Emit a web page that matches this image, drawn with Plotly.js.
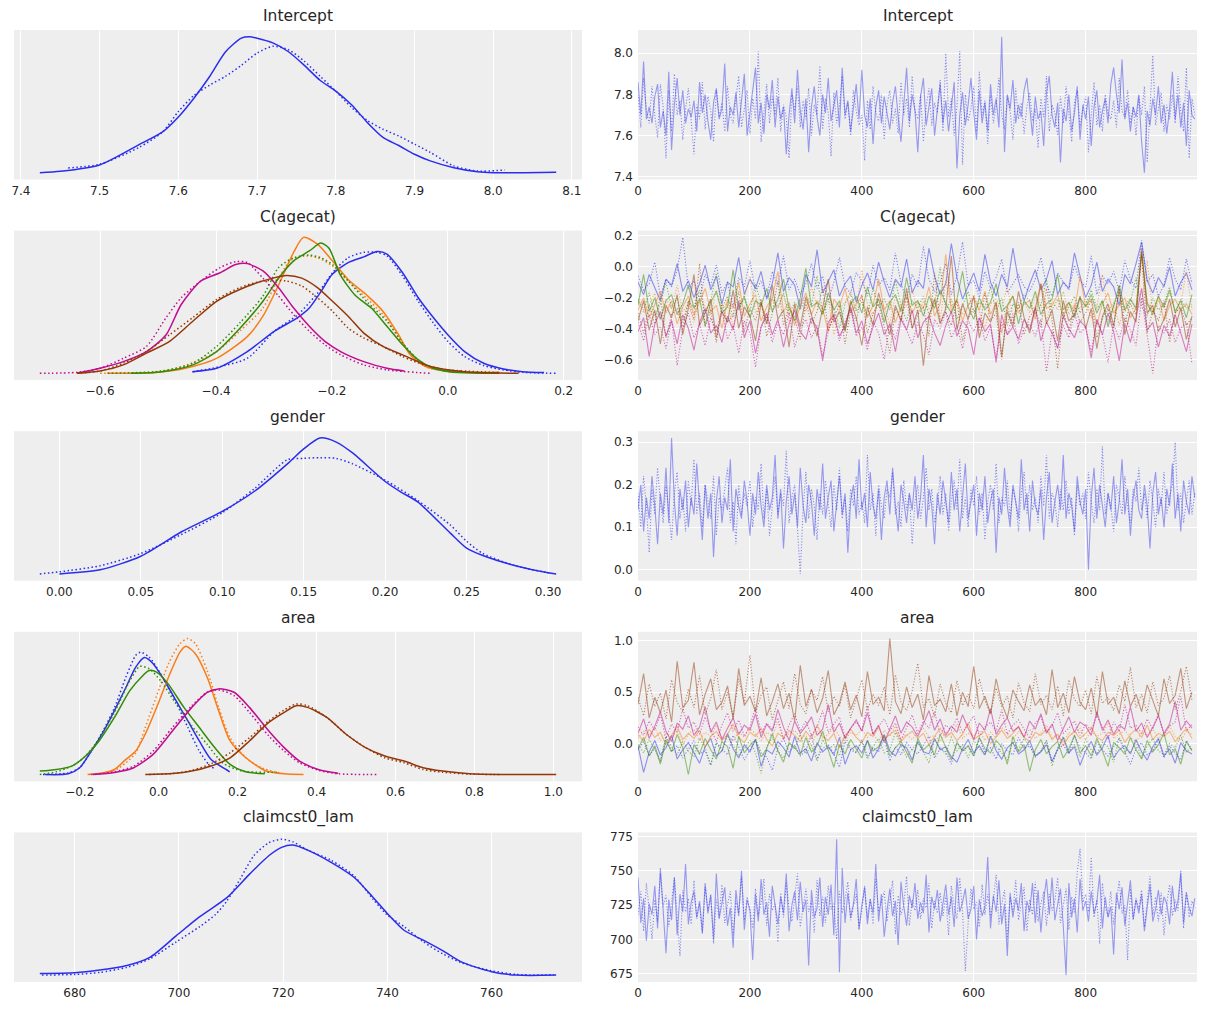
<!DOCTYPE html>
<html><head><meta charset="utf-8">
<script src="https://cdn.plot.ly/plotly-3.0.1.min.js"></script>
<style>html,body{margin:0;padding:0;background:#fff}#chart{width:1211px;height:1011px}</style>
</head><body><div id="chart"></div>
<script>
// ---------------- DATA ----------------
const panelTitles = ["Intercept", "C(agecat)", "gender", "area", "claimcst0_lam"];
const chainColors = ['#2a2eec', '#fa7c17', '#328c06', '#c10c90', '#933708'];

// KDE curves (relative density), chain A solid, chain B dotted
const interceptKdeAx = [7.424,7.45,7.50,7.55,7.58,7.60,7.62,7.64,7.66,7.68,7.69,7.70,7.72,7.74,7.76,7.78,7.80,7.82,7.84,7.86,7.88,7.90,7.92,7.95,7.98,8.00,8.04,8.08];
const interceptKdeAy = [0,0.01,0.057,0.206,0.30,0.41,0.55,0.71,0.89,0.99,1.0,0.99,0.955,0.89,0.79,0.68,0.60,0.50,0.37,0.26,0.20,0.136,0.087,0.037,0.007,0,0,0.003];
const interceptKdeBx = [7.46,7.50,7.55,7.58,7.60,7.62,7.64,7.66,7.68,7.70,7.72,7.74,7.76,7.78,7.80,7.82,7.84,7.86,7.88,7.90,7.92,7.95,7.98,8.015];
const interceptKdeBy = [0.035,0.062,0.186,0.30,0.45,0.57,0.645,0.71,0.79,0.88,0.93,0.905,0.82,0.71,0.60,0.48,0.385,0.32,0.27,0.21,0.15,0.05,0.012,0.02];

const agecatKde = [
  { ax: [-0.441,-0.399,-0.346,-0.299,-0.259,-0.239,-0.219,-0.199,-0.172,-0.145,-0.122,-0.105,-0.078,-0.051,-0.025,0.0,0.029,0.062,0.096,0.129,0.166],
    ay: [0.012,0.037,0.16,0.31,0.41,0.48,0.60,0.73,0.815,0.857,0.896,0.877,0.74,0.556,0.41,0.284,0.16,0.074,0.032,0.012,0.005],
    bx: [-0.440,-0.399,-0.346,-0.299,-0.259,-0.239,-0.219,-0.199,-0.172,-0.145,-0.122,-0.105,-0.078,-0.051,-0.025,0.0,0.029,0.062,0.096,0.129,0.187],
    by: [0.012,0.044,0.11,0.31,0.43,0.52,0.62,0.74,0.85,0.89,0.89,0.864,0.716,0.53,0.37,0.235,0.123,0.057,0.025,0.007,0.0] },
  { ax: [-0.587,-0.506,-0.453,-0.399,-0.346,-0.319,-0.292,-0.266,-0.249,-0.225,-0.199,-0.172,-0.138,-0.112,-0.085,-0.065,-0.038,-0.005,0.029,0.089],
    ay: [0,0.005,0.037,0.11,0.27,0.42,0.65,0.89,1.0,0.95,0.827,0.69,0.568,0.457,0.284,0.136,0.049,0.017,0.007,0.007],
    bx: [-0.6,-0.506,-0.453,-0.399,-0.359,-0.319,-0.292,-0.272,-0.249,-0.225,-0.199,-0.172,-0.138,-0.112,-0.085,-0.065,-0.038,-0.005,0.049],
    by: [0,0.007,0.057,0.16,0.31,0.48,0.70,0.827,0.864,0.85,0.79,0.68,0.543,0.432,0.27,0.148,0.049,0.017,0.005] },
  { ax: [-0.547,-0.493,-0.440,-0.399,-0.359,-0.319,-0.292,-0.266,-0.239,-0.219,-0.205,-0.185,-0.159,-0.132,-0.105,-0.078,-0.051,-0.025,0.002,0.042,0.089],
    ay: [0,0.012,0.062,0.16,0.33,0.53,0.70,0.827,0.90,0.958,0.92,0.72,0.57,0.48,0.346,0.21,0.099,0.037,0.012,0.002,0],
    bx: [-0.587,-0.493,-0.440,-0.399,-0.359,-0.319,-0.292,-0.266,-0.239,-0.219,-0.199,-0.172,-0.138,-0.105,-0.078,-0.051,-0.025,0.022],
    by: [0,0.017,0.074,0.198,0.37,0.568,0.778,0.85,0.87,0.85,0.80,0.68,0.52,0.383,0.222,0.099,0.037,0.017] },
  { ax: [-0.640,-0.6,-0.560,-0.520,-0.486,-0.460,-0.426,-0.393,-0.366,-0.346,-0.319,-0.292,-0.266,-0.239,-0.212,-0.185,-0.145,-0.105,-0.075],
    ay: [0,0.037,0.086,0.16,0.284,0.506,0.68,0.74,0.80,0.807,0.753,0.63,0.48,0.346,0.235,0.16,0.086,0.037,0.017],
    bx: [-0.704,-0.640,-0.6,-0.560,-0.520,-0.486,-0.460,-0.426,-0.393,-0.366,-0.346,-0.319,-0.292,-0.266,-0.239,-0.212,-0.185,-0.145,-0.105,-0.031],
    by: [0,0.007,0.037,0.11,0.198,0.41,0.556,0.68,0.778,0.822,0.815,0.70,0.568,0.432,0.31,0.21,0.136,0.062,0.025,0] },
  { ax: [-0.640,-0.6,-0.560,-0.520,-0.480,-0.440,-0.399,-0.359,-0.319,-0.279,-0.252,-0.225,-0.199,-0.172,-0.145,-0.112,-0.078,-0.038,0.002,0.056,0.122],
    ay: [0,0.017,0.062,0.148,0.235,0.383,0.53,0.617,0.68,0.72,0.70,0.63,0.53,0.42,0.296,0.198,0.136,0.062,0.025,0.005,0],
    bx: [-0.640,-0.6,-0.560,-0.520,-0.480,-0.440,-0.399,-0.359,-0.319,-0.279,-0.252,-0.225,-0.199,-0.172,-0.145,-0.112,-0.078,-0.038,0.002,0.089],
    by: [0,0.017,0.074,0.16,0.284,0.41,0.543,0.63,0.68,0.68,0.642,0.556,0.457,0.333,0.26,0.198,0.123,0.057,0.025,0.005] }
];

const genderKdeAx = [0.0,0.025,0.05,0.075,0.10,0.12,0.14,0.15,0.16,0.17,0.18,0.20,0.21,0.22,0.24,0.25,0.26,0.28,0.30,0.305];
const genderKdeAy = [0.0,0.03,0.13,0.31,0.46,0.61,0.81,0.92,1.0,0.97,0.89,0.68,0.60,0.53,0.30,0.19,0.135,0.06,0.008,0.0];
const genderKdeBx = [-0.012,0.0,0.025,0.05,0.075,0.10,0.12,0.14,0.15,0.16,0.17,0.18,0.20,0.22,0.24,0.25,0.26,0.28,0.30,0.302];
const genderKdeBy = [0.0,0.015,0.06,0.15,0.29,0.45,0.63,0.84,0.85,0.855,0.85,0.81,0.69,0.54,0.36,0.24,0.15,0.06,0.008,0.005];

const areaKde = [
  { ax: [-0.288,-0.229,-0.2,-0.171,-0.141,-0.112,-0.083,-0.058,-0.036,-0.014,0.015,0.044,0.074,0.103,0.133,0.172,0.18],
    ay: [0,0.005,0.05,0.17,0.31,0.47,0.64,0.79,0.86,0.815,0.69,0.543,0.395,0.247,0.11,0.035,0.02],
    bx: [-0.293,-0.229,-0.2,-0.171,-0.141,-0.112,-0.083,-0.058,-0.046,-0.024,0.005,0.044,0.074,0.103,0.133,0.142],
    by: [0,0.012,0.05,0.17,0.32,0.49,0.716,0.877,0.90,0.864,0.74,0.53,0.346,0.173,0.054,0.05] },
  { ax: [-0.18,-0.141,-0.112,-0.083,-0.058,-0.034,-0.005,0.025,0.054,0.069,0.093,0.123,0.152,0.181,0.221,0.269,0.318,0.367],
    ay: [0,0.012,0.037,0.111,0.173,0.296,0.494,0.716,0.90,0.943,0.889,0.716,0.469,0.247,0.123,0.03,0.005,0],
    bx: [-0.176,-0.112,-0.083,-0.058,-0.034,-0.005,0.025,0.054,0.074,0.093,0.123,0.152,0.181,0.221,0.260,0.309],
    by: [0,0.03,0.086,0.16,0.346,0.58,0.815,0.963,1.0,0.963,0.765,0.494,0.27,0.123,0.05,0.01] },
  { ax: [-0.301,-0.259,-0.22,-0.19,-0.151,-0.112,-0.073,-0.044,-0.024,-0.005,0.024,0.064,0.103,0.142,0.181,0.221,0.269],
    ay: [0.025,0.037,0.062,0.123,0.247,0.42,0.617,0.716,0.765,0.753,0.667,0.494,0.346,0.198,0.074,0.02,0.005],
    bx: [-0.301,-0.259,-0.22,-0.19,-0.151,-0.112,-0.073,-0.048,-0.024,0.005,0.044,0.084,0.123,0.162,0.211,0.299],
    by: [0,0.02,0.062,0.123,0.26,0.457,0.69,0.795,0.778,0.69,0.52,0.358,0.222,0.086,0.025,0.017] },
  { ax: [-0.166,-0.112,-0.063,-0.014,0.035,0.084,0.123,0.152,0.191,0.230,0.279,0.318,0.357,0.406,0.455],
    ay: [0,0.015,0.05,0.148,0.32,0.494,0.605,0.63,0.605,0.494,0.32,0.198,0.099,0.035,0.01],
    bx: [-0.171,-0.112,-0.063,-0.014,0.035,0.084,0.123,0.152,0.191,0.230,0.279,0.318,0.357,0.406,0.455,0.558],
    by: [0,0.02,0.062,0.173,0.346,0.506,0.605,0.622,0.58,0.457,0.284,0.173,0.086,0.03,0.005,0] },
  { ax: [-0.034,0.035,0.084,0.133,0.181,0.230,0.279,0.318,0.348,0.377,0.426,0.475,0.524,0.573,0.622,0.670,0.719,0.788,0.866,1.007],
    ay: [0,0.007,0.025,0.062,0.123,0.247,0.383,0.457,0.506,0.494,0.42,0.296,0.198,0.136,0.099,0.05,0.025,0.005,0,0],
    bx: [-0.024,0.035,0.084,0.133,0.181,0.230,0.279,0.318,0.348,0.377,0.426,0.475,0.524,0.573,0.622,0.670,0.719,0.788,0.866],
    by: [0,0.007,0.03,0.079,0.16,0.27,0.395,0.474,0.519,0.506,0.42,0.296,0.198,0.123,0.086,0.037,0.017,0.003,0] }
];

const claimKdeAx = [673.3,680,684.8,690,694.4,699.5,704,709.2,713.6,717.3,719.7,721.9,724.7,729.2,733.6,737.3,739.9,743.2,746.9,750.6,754.3,760,764.7,772.4];
const claimKdeAy = [0.012,0.017,0.037,0.07,0.13,0.29,0.43,0.57,0.745,0.88,0.94,0.957,0.92,0.83,0.72,0.57,0.457,0.33,0.257,0.18,0.095,0.025,0,0];
const claimKdeBx = [673.7,680,684.8,690,694.4,699.5,704,707,709.2,711.8,714.4,717.3,719.7,721.9,724.7,729.2,733.6,737.3,739.9,743.2,746.9,750.6,754.3,760,764.7,772];
const claimKdeBy = [0,0.005,0.02,0.057,0.12,0.245,0.357,0.445,0.545,0.71,0.88,0.975,1.0,0.98,0.92,0.845,0.73,0.557,0.445,0.357,0.245,0.157,0.09,0.032,0.005,0];

// Trace samples (thinned draws)
const singleStep = 5;
const multiStep = 10;
const interceptA = [7.86,7.70,7.96,7.68,7.74,7.66,7.79,7.85,7.64,7.72,7.60,7.91,7.53,7.75,7.88,7.70,7.82,7.66,7.73,7.69,7.77,7.62,7.86,7.71,7.80,7.67,7.58,7.76,7.83,7.68,7.73,7.95,7.62,7.74,7.70,7.81,7.64,7.78,7.90,7.60,7.72,7.84,7.93,7.66,7.76,7.61,7.80,7.73,7.87,7.64,7.79,7.68,7.74,7.51,7.70,7.83,7.66,7.92,7.72,7.63,7.78,7.52,7.74,7.84,7.69,7.60,7.80,7.71,7.88,7.67,7.75,7.82,7.64,7.93,7.70,7.77,7.62,7.73,7.85,7.68,7.92,7.70,7.64,7.78,7.56,7.74,7.82,7.66,7.79,7.71,7.63,7.76,7.84,7.69,7.57,7.75,7.93,7.67,7.80,7.72,7.52,7.79,7.88,7.65,7.74,7.83,7.60,7.71,7.85,7.66,7.77,7.62,7.73,7.86,7.44,7.70,7.81,7.65,7.75,7.88,7.71,7.58,7.82,7.66,7.76,7.62,7.85,7.70,7.78,7.64,8.08,7.52,7.80,7.73,7.87,7.66,7.75,7.69,7.82,7.88,7.74,7.60,7.79,7.68,7.72,7.55,7.81,7.89,7.70,7.64,7.76,7.47,7.73,7.67,7.80,7.62,7.71,7.84,7.58,7.75,7.68,7.79,7.55,7.74,7.82,7.64,7.72,7.78,7.66,7.85,7.93,7.80,7.71,7.97,7.68,7.76,7.62,7.74,7.69,7.80,7.57,7.42,7.72,7.65,7.78,7.70,7.84,7.66,7.75,7.61,7.73,7.91,7.68,7.80,7.64,7.76,7.55,7.82,7.70,7.68];
const interceptB = [7.80,7.64,7.88,7.72,7.66,7.84,7.70,7.59,7.85,7.74,7.49,7.82,7.62,7.90,7.70,7.77,7.58,7.73,7.83,7.67,7.51,7.75,7.68,7.86,7.63,7.79,7.72,7.57,7.82,7.69,7.76,7.62,7.84,7.70,7.66,7.78,7.89,7.64,7.74,7.82,7.61,7.78,7.68,8.01,7.57,7.73,7.85,7.66,7.79,7.70,7.88,7.62,7.75,7.69,7.49,7.80,7.72,7.84,7.64,7.77,7.68,7.83,7.60,7.75,7.70,7.94,7.63,7.78,7.71,7.50,7.81,7.66,7.74,7.89,7.68,7.76,7.60,7.82,7.72,7.65,7.70,7.48,7.77,7.63,7.84,7.71,7.67,7.80,7.58,7.75,7.82,7.66,7.73,7.61,7.86,7.70,7.78,7.64,7.89,7.72,7.68,7.80,7.57,7.74,7.83,7.65,7.76,7.71,7.87,7.62,8.00,7.69,7.78,7.60,7.74,8.01,7.46,7.80,7.67,7.73,7.84,7.62,7.91,7.70,7.77,7.56,7.80,7.66,7.74,7.88,7.70,7.63,7.79,7.72,7.58,7.83,7.68,7.76,7.61,7.74,7.81,7.67,7.73,7.54,7.78,7.69,7.89,7.62,7.75,7.71,7.60,7.79,7.66,7.84,7.70,7.57,7.76,7.82,7.64,7.73,7.79,7.52,7.70,7.86,7.65,7.75,7.62,7.80,7.71,7.68,7.77,7.64,7.88,7.72,7.69,7.82,7.66,7.74,7.60,7.79,7.70,7.84,7.47,7.76,7.99,7.65,7.73,7.81,7.62,7.75,7.68,7.80,7.66,7.89,7.72,7.62,7.93,7.49,7.78,7.70];

const agecatA = [
  [-0.10,-0.18,-0.05,-0.14,-0.22,-0.08,-0.12,0.02,-0.16,-0.09,-0.20,-0.11,0.01,-0.15,-0.06,-0.24,-0.10,-0.13,0.06,-0.18,-0.08,-0.14,-0.03,-0.21,-0.11,0.09,-0.16,-0.07,-0.12,-0.27,-0.05,-0.13,0.11,-0.17,-0.09,-0.02,-0.19,-0.11,-0.06,-0.23,-0.12,-0.04,-0.15,0.03,-0.10,-0.20,-0.08,-0.13,0.05,-0.17,-0.09,-0.14,0.12,-0.06,-0.18,-0.11,0.15,-0.07,-0.21,-0.12,-0.04,-0.16,0.08,-0.10,-0.19,-0.05,-0.13,0.12,-0.09,-0.22,-0.11,-0.02,-0.15,-0.08,0.04,-0.18,-0.10,-0.14,0.09,-0.06,-0.20,-0.12,0.03,-0.16,-0.08,-0.13,-0.25,-0.05,-0.11,0.02,0.16,-0.09,-0.17,-0.07,-0.13,0.00,-0.19,-0.10,-0.04,-0.15],
  [-0.28,-0.20,-0.33,-0.24,-0.16,-0.30,-0.22,-0.37,-0.26,-0.19,-0.31,-0.23,-0.14,-0.29,-0.25,-0.40,-0.21,-0.27,-0.10,-0.32,-0.24,-0.18,-0.35,-0.26,-0.20,-0.03,-0.29,-0.23,-0.38,-0.25,-0.17,-0.31,-0.22,-0.27,-0.42,-0.21,-0.26,-0.14,-0.30,-0.24,-0.19,-0.33,-0.25,-0.08,-0.28,-0.22,-0.36,-0.26,-0.18,-0.30,-0.23,-0.27,-0.13,-0.32,-0.24,0.08,-0.29,-0.21,-0.35,-0.25,-0.20,-0.28,-0.16,-0.31,-0.23,-0.43,-0.26,-0.19,-0.30,-0.24,-0.22,-0.34,-0.11,-0.27,-0.25,-0.18,-0.32,-0.23,-0.29,-0.06,-0.26,-0.21,-0.38,-0.24,-0.17,-0.30,-0.25,-0.20,-0.33,-0.27,0.10,-0.23,-0.29,-0.19,-0.35,-0.25,-0.21,-0.28,-0.24,-0.31],
  [-0.25,-0.05,-0.29,-0.20,-0.34,-0.22,-0.18,-0.31,-0.24,-0.12,-0.27,-0.21,-0.38,-0.23,-0.16,-0.30,-0.26,-0.02,-0.28,-0.19,-0.33,-0.22,-0.25,-0.14,-0.29,-0.21,-0.08,-0.27,-0.35,-0.20,-0.01,-0.26,-0.23,-0.31,-0.17,-0.28,-0.22,-0.41,-0.24,-0.19,-0.30,-0.13,-0.26,-0.21,-0.36,-0.23,-0.18,-0.29,-0.07,-0.25,-0.22,-0.32,-0.19,-0.27,-0.15,-0.24,-0.30,-0.21,-0.03,-0.26,-0.34,-0.20,-0.28,-0.23,-0.11,-0.29,-0.25,-0.19,-0.37,-0.22,-0.27,-0.16,-0.31,-0.24,-0.21,-0.05,-0.28,-0.23,-0.33,-0.20,-0.26,-0.18,-0.30,-0.22,-0.39,-0.25,-0.12,-0.28,-0.21,-0.27,0.09,-0.24,-0.31,-0.19,-0.26,-0.15,-0.29,-0.22,-0.33,-0.18],
  [-0.42,-0.33,-0.58,-0.37,-0.29,-0.45,-0.35,-0.50,-0.31,-0.40,-0.54,-0.36,-0.27,-0.43,-0.38,-0.49,-0.32,-0.41,-0.22,-0.46,-0.35,-0.56,-0.39,-0.30,-0.44,-0.34,-0.52,-0.37,-0.28,-0.42,-0.47,-0.33,-0.40,-0.61,-0.36,-0.31,-0.45,-0.38,-0.26,-0.43,-0.35,-0.50,-0.39,-0.30,-0.44,-0.37,-0.55,-0.34,-0.41,-0.28,-0.46,-0.36,-0.32,-0.43,-0.51,-0.38,-0.29,-0.45,-0.35,-0.40,-0.57,-0.33,-0.42,-0.37,-0.62,-0.31,-0.44,-0.39,-0.47,-0.34,-0.41,-0.26,-0.48,-0.36,-0.43,-0.53,-0.32,-0.40,-0.46,-0.35,-0.39,-0.59,-0.34,-0.44,-0.30,-0.42,-0.61,-0.37,-0.49,-0.33,-0.14,-0.41,-0.36,-0.52,-0.38,-0.45,-0.31,-0.43,-0.55,-0.37],
  [-0.35,-0.22,-0.41,-0.28,-0.50,-0.25,-0.33,-0.18,-0.44,-0.27,-0.05,-0.38,-0.30,-0.21,-0.46,-0.29,-0.36,-0.15,-0.40,-0.26,-0.32,-0.48,-0.23,-0.37,-0.12,-0.34,-0.28,-0.52,-0.24,-0.39,-0.20,-0.31,-0.45,-0.27,-0.08,-0.36,-0.29,-0.42,-0.22,-0.33,-0.51,-0.26,-0.38,-0.17,-0.30,-0.44,-0.25,-0.35,-0.14,-0.40,-0.28,-0.64,-0.32,-0.21,-0.37,-0.27,0.07,-0.41,-0.24,-0.34,-0.19,-0.46,-0.30,-0.36,-0.23,-0.58,-0.29,-0.39,-0.16,-0.33,-0.43,-0.26,-0.11,-0.37,-0.28,-0.48,-0.22,-0.35,-0.31,-0.19,-0.40,-0.27,-0.53,-0.32,-0.24,-0.38,-0.15,-0.44,-0.29,-0.36,0.12,-0.30,-0.25,-0.42,-0.34,-0.21,-0.39,-0.27,-0.47,-0.32]
];
const agecatB = [
  [-0.06,-0.15,-0.11,0.03,-0.19,-0.08,-0.13,-0.02,0.19,-0.14,-0.09,-0.21,-0.05,-0.12,0.01,-0.17,-0.10,-0.26,-0.07,-0.13,0.04,-0.16,-0.09,-0.20,-0.03,-0.12,0.07,-0.15,-0.08,-0.18,-0.11,0.02,-0.14,-0.06,-0.22,-0.10,0.06,-0.13,-0.17,-0.04,-0.09,-0.19,0.01,-0.12,-0.07,-0.15,0.09,-0.11,-0.21,-0.05,-0.13,0.13,-0.08,-0.16,-0.10,0.02,-0.18,-0.06,0.16,-0.12,-0.09,-0.20,-0.03,-0.14,-0.07,0.05,-0.17,-0.11,-0.05,-0.13,-0.16,-0.08,0.06,-0.12,-0.19,-0.04,-0.10,-0.15,0.01,-0.09,-0.13,0.07,-0.18,-0.06,-0.11,-0.03,-0.16,0.04,-0.08,-0.14,0.17,-0.10,-0.05,-0.19,-0.12,0.06,-0.08,-0.15,0.05,-0.11],
  [-0.22,-0.30,-0.25,-0.17,-0.34,-0.21,-0.27,-0.12,-0.29,-0.24,-0.36,-0.20,-0.26,-0.31,-0.15,-0.28,-0.23,-0.39,-0.25,-0.19,-0.06,-0.30,-0.24,-0.33,-0.21,-0.27,-0.18,-0.35,-0.26,-0.22,-0.29,-0.13,-0.25,-0.31,-0.20,-0.44,-0.27,-0.23,-0.16,-0.28,-0.02,-0.24,-0.32,-0.21,-0.26,-0.37,-0.19,-0.29,-0.25,-0.14,-0.30,-0.23,-0.27,-0.20,-0.34,-0.09,-0.26,-0.22,-0.31,-0.25,-0.18,-0.29,-0.40,-0.24,-0.21,-0.27,-0.13,-0.32,-0.26,-0.23,-0.30,-0.19,-0.25,-0.35,-0.22,-0.28,-0.16,-0.31,-0.24,-0.27,-0.21,-0.33,-0.26,-0.05,-0.29,-0.23,-0.38,-0.25,-0.20,-0.28,-0.24,0.04,-0.31,-0.22,-0.27,-0.17,-0.30,-0.25,-0.02,-0.28],
  [-0.21,-0.28,-0.17,-0.32,-0.24,-0.10,-0.27,-0.20,-0.36,-0.23,-0.26,-0.15,-0.30,-0.22,-0.04,-0.27,-0.19,-0.33,-0.25,-0.21,-0.29,-0.11,-0.24,-0.37,-0.20,-0.26,-0.17,-0.31,-0.23,-0.28,-0.19,-0.25,-0.06,-0.30,-0.22,-0.27,-0.40,-0.24,-0.18,-0.29,-0.23,-0.32,-0.14,-0.26,-0.21,-0.28,-0.09,-0.25,-0.35,-0.22,-0.27,-0.19,-0.31,-0.24,-0.00,-0.28,-0.21,-0.34,-0.25,-0.16,-0.30,-0.23,-0.26,-0.13,-0.29,-0.20,-0.38,-0.24,-0.27,-0.18,-0.22,-0.31,-0.25,-0.08,-0.28,-0.21,-0.33,-0.26,-0.19,-0.30,-0.24,-0.15,-0.27,-0.22,-0.36,-0.25,-0.17,-0.29,-0.23,-0.07,-0.26,-0.32,-0.20,-0.28,-0.24,-0.13,-0.30,-0.21,-0.27,-0.25],
  [-0.36,-0.48,-0.31,-0.44,-0.39,-0.53,-0.34,-0.64,-0.40,-0.30,-0.46,-0.37,-0.51,-0.33,-0.42,-0.28,-0.47,-0.38,-0.56,-0.35,-0.43,-0.65,-0.39,-0.32,-0.49,-0.36,-0.44,-0.30,-0.52,-0.40,-0.34,-0.46,-0.38,-0.58,-0.42,-0.31,-0.48,-0.36,-0.27,-0.45,-0.39,-0.54,-0.35,-0.43,-0.60,-0.37,-0.47,-0.32,-0.41,-0.50,-0.36,-0.44,-0.57,-0.34,-0.40,-0.29,-0.46,-0.38,-0.53,-0.35,-0.42,-0.33,-0.48,-0.39,-0.59,-0.36,-0.44,-0.31,-0.50,-0.40,-0.37,-0.45,-0.34,-0.68,-0.41,-0.52,-0.38,-0.46,-0.30,-0.43,-0.39,-0.55,-0.35,-0.44,-0.62,-0.37,-0.47,-0.33,-0.41,-0.51,-0.20,-0.45,-0.69,-0.38,-0.43,-0.34,-0.49,-0.40,-0.36,-0.63],
  [-0.30,-0.43,-0.25,-0.37,-0.19,-0.46,-0.31,-0.27,-0.40,-0.22,-0.34,0.02,-0.39,-0.28,-0.49,-0.24,-0.36,-0.31,-0.16,-0.42,-0.27,-0.35,-0.21,-0.45,-0.30,-0.09,-0.38,-0.26,-0.33,-0.47,-0.23,-0.37,-0.29,-0.13,-0.41,-0.32,-0.25,-0.50,-0.28,-0.35,-0.18,-0.43,-0.30,-0.24,-0.39,-0.56,-0.27,-0.34,-0.20,-0.40,-0.31,-0.26,-0.45,-0.04,-0.36,-0.29,-0.38,-0.22,-0.48,-0.33,-0.27,-0.41,-0.17,-0.35,-0.30,-0.60,-0.26,-0.37,-0.23,-0.44,-0.32,-0.28,-0.39,-0.14,-0.34,-0.66,-0.29,-0.42,-0.25,-0.36,-0.30,-0.21,-0.46,-0.33,-0.27,-0.40,-0.12,-0.37,-0.24,-0.31,0.07,-0.43,-0.28,-0.35,-0.22,-0.49,-0.30,-0.26,-0.38,-0.33]
];

const genderA = [0.14,0.20,0.09,0.17,0.12,0.22,0.15,0.06,0.18,0.13,0.24,0.11,0.31,0.16,0.08,0.19,0.14,0.21,0.10,0.17,0.13,0.25,0.15,0.07,0.20,0.12,0.18,0.03,0.16,0.22,0.11,0.17,0.14,0.26,0.09,0.19,0.15,0.12,0.21,0.16,0.08,0.18,0.13,0.23,0.15,0.10,0.20,0.14,0.17,0.27,0.12,0.19,0.05,0.16,0.22,0.13,0.18,0.10,0.24,0.15,0.11,0.20,0.16,0.08,0.19,0.14,0.25,0.12,0.17,0.21,0.09,0.15,0.22,0.13,0.18,0.04,0.16,0.20,0.12,0.26,0.14,0.18,0.10,0.23,0.15,0.12,0.19,0.07,0.17,0.21,0.13,0.24,0.15,0.09,0.20,0.16,0.11,0.18,0.14,0.22,0.12,0.17,0.27,0.10,0.19,0.15,0.06,0.18,0.13,0.21,0.16,0.11,0.23,0.14,0.19,0.09,0.17,0.25,0.12,0.16,0.20,0.08,0.18,0.14,0.22,0.11,0.16,0.19,0.04,0.17,0.13,0.24,0.15,0.10,0.20,0.16,0.12,0.26,0.14,0.18,0.09,0.21,0.15,0.13,0.19,0.07,0.17,0.23,0.11,0.16,0.20,0.14,0.27,0.12,0.18,0.15,0.09,0.22,0.16,0.13,0.19,0.00,0.17,0.24,0.12,0.20,0.15,0.10,0.18,0.14,0.22,0.11,0.16,0.26,0.13,0.19,0.08,0.17,0.21,0.14,0.12,0.20,0.15,0.05,0.18,0.23,0.13,0.17,0.10,0.19,0.15,0.25,0.12,0.18,0.09,0.21,0.16,0.13,0.22,0.17];
const genderB = [0.18,0.10,0.22,0.15,0.04,0.19,0.13,0.24,0.16,0.11,0.20,0.14,0.07,0.18,0.23,0.12,0.17,0.09,0.21,0.15,0.26,0.13,0.18,0.10,0.20,0.16,0.12,0.22,0.08,0.17,0.14,0.19,0.24,0.11,0.16,0.06,0.20,0.13,0.18,0.15,0.21,0.10,0.17,0.14,0.25,0.12,0.19,0.08,0.16,0.22,0.13,0.18,0.15,0.28,0.11,0.17,0.20,0.09,-0.01,0.14,0.23,0.12,0.19,0.15,0.07,0.18,0.13,0.21,0.16,0.10,0.20,0.14,0.24,0.12,0.17,0.09,0.19,0.15,0.22,0.13,0.16,0.11,0.27,0.14,0.18,0.08,0.20,0.15,0.12,0.19,0.17,0.23,0.13,0.16,0.10,0.21,0.14,0.18,0.06,0.16,0.20,0.12,0.17,0.24,0.14,0.19,0.11,0.15,0.22,0.13,0.18,0.09,0.16,0.21,0.14,0.26,0.12,0.17,0.10,0.19,0.15,0.22,0.13,0.18,0.07,0.16,0.20,0.14,0.25,0.11,0.17,0.15,0.21,0.12,0.19,0.16,0.09,0.18,0.23,0.13,0.20,0.14,0.17,0.11,0.22,0.15,0.27,0.12,0.18,0.16,0.10,0.19,0.14,0.21,0.13,0.17,0.08,0.20,0.15,0.18,0.12,0.23,0.16,0.11,0.19,0.14,0.29,0.13,0.18,0.15,0.09,0.20,0.17,0.13,0.22,0.15,0.11,0.19,0.16,0.24,0.14,0.18,0.12,0.21,0.16,0.10,0.19,0.15,0.23,0.13,0.17,0.20,0.30,0.14,0.18,0.11,0.16,0.21,0.13,0.18];

const areaA = [
  [-0.02,-0.28,-0.08,0.03,-0.11,-0.04,0.08,-0.15,-0.06,0.01,-0.09,-0.19,-0.03,0.05,-0.12,-0.07,0.10,-0.05,-0.14,-0.01,-0.08,0.04,-0.22,-0.06,-0.10,0.02,-0.04,-0.13,0.07,-0.09,-0.05,-0.17,0.01,-0.08,-0.03,-0.11,0.06,-0.20,-0.06,-0.02,-0.09,0.03,-0.14,-0.05,0.09,-0.07,-0.12,-0.01,-0.04,-0.16,0.02,-0.08,-0.10,0.05,-0.06,-0.03,-0.13,-0.18,-0.05,0.04,-0.09,-0.02,-0.11,0.07,-0.07,-0.15,-0.04,0.01,-0.10,-0.06,0.03,-0.12,-0.08,-0.01,-0.17,-0.05,0.06,-0.09,-0.03,-0.21,-0.07,0.02,-0.11,-0.04,0.08,-0.14,-0.06,-0.02,-0.10,0.04,-0.08,-0.16,-0.03,0.05,-0.12,-0.05,-0.19,0.01,-0.07,-0.10],
  [0.09,0.02,0.14,0.06,0.11,-0.01,0.08,0.17,0.04,0.10,0.05,0.13,-0.03,0.07,0.12,0.03,0.09,0.19,0.06,0.01,0.11,0.07,0.15,0.04,-0.02,0.10,0.06,0.13,0.08,0.02,0.12,0.05,0.18,0.07,0.03,0.10,-0.04,0.08,0.14,0.06,0.01,0.11,0.07,0.16,0.04,0.09,0.13,0.02,0.08,0.12,0.05,0.10,-0.01,0.07,0.15,0.06,0.11,0.03,0.09,0.20,0.04,0.08,0.12,0.00,0.07,0.13,0.05,0.10,0.17,0.06,0.02,0.11,0.08,0.14,0.04,0.09,-0.02,0.07,0.12,0.05,0.10,0.16,0.06,0.03,0.11,0.08,0.13,0.01,0.09,0.14,0.06,0.18,0.04,0.10,0.07,0.12,0.02,0.08,0.15,0.05],
  [-0.05,0.06,-0.12,-0.02,-0.20,0.03,-0.08,0.09,-0.04,-0.30,-0.01,-0.10,0.05,-0.06,-0.15,0.02,-0.03,-0.24,0.07,-0.09,-0.02,0.04,-0.13,-0.05,0.10,-0.07,-0.18,0.01,-0.04,-0.11,0.06,-0.08,-0.02,0.12,-0.06,-0.23,-0.01,-0.10,0.04,-0.05,-0.14,0.03,-0.07,-0.03,0.08,-0.12,-0.04,0.02,-0.09,-0.19,0.05,-0.06,-0.01,-0.11,0.09,-0.04,-0.16,0.01,-0.07,-0.02,-0.12,0.06,-0.05,-0.09,0.03,-0.03,-0.20,0.07,-0.08,-0.01,-0.27,-0.06,0.04,-0.10,-0.03,0.02,-0.14,-0.05,0.08,-0.09,-0.02,-0.12,0.05,-0.07,-0.22,0.01,-0.04,-0.10,0.06,-0.06,-0.15,0.03,-0.08,-0.01,0.10,-0.11,-0.05,-0.20,0.02,-0.07],
  [0.10,0.24,0.05,0.17,0.31,0.12,0.02,0.20,0.14,0.27,0.08,0.16,0.36,0.11,0.21,0.04,0.15,0.25,0.09,0.18,0.13,0.29,0.06,0.19,0.12,0.33,0.16,0.03,0.22,0.10,0.17,0.26,0.08,0.14,0.38,0.11,0.20,0.05,0.15,0.23,0.12,0.30,0.09,0.18,0.01,0.14,0.27,0.10,0.21,0.16,0.07,0.19,0.32,0.13,0.24,0.08,0.17,0.11,0.28,0.15,0.04,0.20,0.13,0.34,0.09,0.18,0.25,0.12,0.16,0.06,0.22,0.14,0.29,0.10,0.19,0.03,0.15,0.26,0.11,0.21,0.17,0.08,0.31,0.13,0.23,0.09,0.18,0.14,0.36,0.12,0.20,0.06,0.16,0.27,0.10,0.19,0.41,0.13,0.22,0.15],
  [0.38,0.68,0.25,0.45,0.30,0.52,0.21,0.80,0.35,0.42,0.79,0.28,0.48,0.63,0.33,0.40,0.56,0.24,0.73,0.37,0.46,0.31,0.64,0.27,0.41,0.58,0.34,0.49,0.22,0.76,0.36,0.53,0.30,0.44,0.71,0.28,0.39,0.60,0.33,0.47,0.26,0.70,0.38,0.45,0.32,1.02,0.41,0.29,0.55,0.35,0.48,0.23,0.66,0.37,0.43,0.31,0.58,0.27,0.50,0.36,0.75,0.34,0.46,0.29,0.63,0.39,0.25,0.52,0.41,0.32,0.57,0.37,0.44,0.28,0.72,0.35,0.49,0.30,0.65,0.40,0.33,0.54,0.26,0.70,0.38,0.45,0.29,0.61,0.36,0.48,0.31,0.57,0.42,0.27,0.63,0.39,0.47,0.73,0.34,0.50]
];
const areaB = [
  [-0.06,0.02,-0.12,-0.04,-0.18,0.06,-0.08,-0.02,-0.14,-0.05,0.03,-0.10,-0.07,-0.21,0.01,-0.05,-0.11,0.08,-0.03,-0.16,-0.06,0.04,-0.09,-0.13,-0.26,-0.04,0.05,-0.08,-0.02,-0.12,-0.07,0.09,-0.15,-0.05,-0.01,-0.10,-0.23,0.02,-0.06,-0.09,0.04,-0.13,-0.04,-0.08,0.06,-0.17,-0.03,-0.11,0.01,-0.06,-0.10,-0.02,0.07,-0.14,-0.05,-0.08,-0.20,0.02,-0.07,-0.03,-0.12,0.05,-0.09,-0.04,-0.15,0.00,-0.07,-0.11,0.06,-0.05,-0.02,-0.13,-0.08,0.03,-0.18,-0.06,-0.01,-0.10,0.08,-0.04,-0.09,-0.15,0.02,-0.06,-0.12,-0.03,0.05,-0.08,-0.20,-0.05,0.01,-0.11,-0.07,0.04,-0.14,-0.02,-0.09,-0.16,0.03,-0.06],
  [0.05,0.12,0.08,0.16,0.03,0.10,0.06,0.13,-0.01,0.09,0.14,0.04,0.11,0.07,0.18,0.05,0.08,0.02,0.12,0.06,0.15,0.09,0.03,0.11,0.07,0.21,0.04,0.10,0.13,0.06,0.08,-0.02,0.12,0.05,0.09,0.16,0.07,0.03,0.11,0.08,0.14,0.06,0.10,0.01,0.13,0.07,0.17,0.05,0.09,0.04,0.11,0.15,0.06,0.08,0.02,0.12,0.07,0.19,0.05,0.10,0.08,0.13,0.03,0.11,0.06,0.16,0.09,0.04,0.12,0.07,0.14,0.05,0.10,0.18,0.06,0.09,0.01,0.11,0.08,0.15,0.04,0.12,0.07,0.10,0.20,0.05,0.09,0.13,0.06,0.02,0.11,0.08,0.14,0.05,0.10,0.17,0.07,0.03,0.12,0.09],
  [-0.01,-0.09,0.04,-0.06,-0.16,0.07,-0.03,-0.11,0.02,-0.07,-0.13,0.05,-0.04,-0.21,0.01,-0.08,0.08,-0.02,-0.12,-0.05,0.03,-0.09,-0.29,-0.03,0.06,-0.07,-0.14,0.00,-0.05,0.09,-0.10,-0.02,-0.17,0.04,-0.06,-0.01,-0.12,0.07,-0.04,-0.08,0.02,-0.15,-0.03,0.05,-0.09,-0.06,0.11,-0.02,-0.13,-0.05,0.01,-0.08,-0.19,0.04,-0.04,-0.10,0.06,-0.07,-0.01,-0.14,0.03,-0.05,-0.11,0.08,-0.03,-0.09,-0.16,0.02,-0.06,0.05,-0.02,-0.12,-0.07,0.03,-0.22,-0.04,0.07,-0.08,-0.01,-0.13,0.04,-0.06,-0.10,0.01,-0.03,-0.18,0.06,-0.05,-0.09,0.02,-0.14,-0.02,0.05,-0.07,-0.11,0.00,-0.04,0.08,-0.08,-0.03],
  [0.16,0.08,0.22,0.13,0.28,0.05,0.19,0.11,0.34,0.15,0.21,0.09,0.26,0.14,0.02,0.18,0.30,0.12,0.23,0.07,0.17,0.35,0.10,0.20,0.14,0.25,0.04,0.18,0.29,0.12,0.22,0.08,0.16,0.32,0.11,0.19,0.26,0.06,0.15,0.21,0.13,0.37,0.09,0.17,0.24,0.12,0.20,0.03,0.16,0.28,0.10,0.22,0.15,0.31,0.08,0.18,0.13,0.25,0.11,0.19,0.27,0.07,0.16,0.21,0.12,0.33,0.09,0.18,0.23,0.14,0.05,0.20,0.26,0.11,0.17,0.30,0.10,0.15,0.22,0.08,0.19,0.13,0.27,0.16,0.04,0.21,0.12,0.38,0.15,0.18,0.10,0.24,0.14,0.29,0.08,0.17,0.21,0.46,0.12,0.19],
  [0.45,0.27,0.58,0.36,0.49,0.24,0.62,0.40,0.31,0.53,0.35,0.66,0.28,0.44,0.72,0.33,0.50,0.26,0.63,0.39,0.86,0.30,0.47,0.55,0.23,0.41,0.60,0.34,0.68,0.38,0.29,0.52,0.42,0.65,0.31,0.46,0.36,0.57,0.25,0.43,0.62,0.33,0.48,0.37,0.55,0.28,0.67,0.40,0.32,0.51,0.78,0.35,0.44,0.26,0.58,0.39,0.30,0.61,0.37,0.48,0.34,0.63,0.42,0.29,0.54,0.36,0.46,0.25,0.59,0.40,0.31,0.68,0.38,0.47,0.33,0.56,0.27,0.62,0.43,0.36,0.52,0.29,0.65,0.39,0.45,0.32,0.57,0.41,0.74,0.35,0.48,0.30,0.60,0.37,0.44,0.66,0.33,0.51,0.75,0.42]
];

const claimA = [745,712,730,699,726,718,739,708,752,722,690,729,714,745,703,733,720,755,711,727,735,716,728,705,741,719,732,700,748,715,726,738,710,723,694,736,717,750,707,729,721,685,733,713,744,718,727,702,739,724,711,731,719,748,706,725,735,714,742,720,729,681,736,716,723,745,709,731,718,740,703,773,676,752,712,734,716,726,744,707,725,738,711,729,719,755,713,733,702,721,737,717,728,696,742,724,710,732,723,741,715,727,719,747,705,731,722,736,713,726,740,718,731,709,745,720,727,737,715,722,739,700,729,717,724,760,708,732,720,743,711,726,688,734,716,730,721,741,706,728,720,741,712,736,705,729,744,718,745,714,726,737,710,674,741,716,730,705,744,721,728,713,735,719,727,747,708,731,716,724,689,734,722,738,710,727,743,715,729,719,733,706,725,740,713,722,736,718,731,726,711,739,720,728,748,712,734,723,717,730];
const claimB = [718,735,706,741,722,700,729,713,748,724,732,709,727,745,717,688,736,720,730,711,743,715,726,704,738,721,733,697,729,716,740,712,725,735,703,728,719,746,714,731,722,708,737,718,727,744,710,733,721,726,698,734,716,741,723,713,730,748,709,725,737,720,728,705,743,717,731,712,739,722,726,700,735,719,729,742,714,724,733,708,721,739,716,730,711,744,720,727,735,713,728,743,704,732,718,725,746,710,729,721,736,715,730,723,741,708,728,719,734,717,732,703,739,724,715,745,720,677,712,737,722,727,709,740,718,733,716,729,747,711,725,736,700,731,720,743,714,727,738,706,729,718,742,713,726,735,710,733,721,728,745,712,724,737,707,731,719,749,766,727,733,720,760,716,729,697,741,724,717,735,711,728,743,719,725,685,737,714,730,722,736,709,727,746,718,731,713,734,703,726,740,717,729,721,750,708,735,716,728,723];

// Tick values
const interceptKdeTicks = [7.4,7.5,7.6,7.7,7.8,7.9,8.0,8.1];
const agecatKdeTicks = [-0.6,-0.4,-0.2,0.0,0.2];
const genderKdeTicks = [0.00,0.05,0.10,0.15,0.20,0.25,0.30];
const areaKdeTicks = [-0.2,0.0,0.2,0.4,0.6,0.8,1.0];
const claimKdeTicks = [680,700,720,740,760];
const drawTicks = [0,200,400,600,800];
const interceptTraceTicks = [7.4,7.6,7.8,8.0];
const agecatTraceTicks = [-0.6,-0.4,-0.2,0.0,0.2];
const genderTraceTicks = [0.0,0.1,0.2,0.3];
const areaTraceTicks = [0.0,0.5,1.0];
const claimTraceTicks = [675,700,725,750,775];

// ---------------- BUILD ----------------
const W = 1211, H = 1011;
const leftPx = [14, 582], rightPx = [638, 1197];
const rowTop0 = 30, rowH = 149.5, rowGap = 200.6;
const TXT = '#262626';
const FONT = 'DejaVu Sans, sans-serif';

function range5(arrs) {
  let mn = Infinity, mx = -Infinity;
  arrs.forEach(a => a.forEach(v => { if (v < mn) mn = v; if (v > mx) mx = v; }));
  const d = (mx - mn) * 0.05;
  return [mn - d, mx + d];
}

const traces = [];
const layout = {
  width: W, height: H,
  margin: {l: 0, r: 0, t: 0, b: 0},
  paper_bgcolor: '#ffffff',
  plot_bgcolor: '#eeeeee',
  showlegend: false,
  font: {family: FONT, color: TXT, size: 12},
  annotations: []
};

function kdeLine(x, y, color, dotted, n) {
  traces.push({
    type: 'scatter', mode: 'lines', x: x, y: y,
    xaxis: 'x' + n, yaxis: 'y' + n, hoverinfo: 'skip',
    line: {color: color, width: 1.5, dash: dotted ? '1.5px,2.5px' : 'solid', shape: 'spline', smoothing: 0.7}
  });
}
function traceLine(vals, step, color, dotted, n, op) {
  traces.push({
    type: 'scatter', mode: 'lines', x: vals.map((_, i) => i * step), y: vals,
    xaxis: 'x' + n, yaxis: 'y' + n, hoverinfo: 'skip', opacity: op,
    line: {color: color, width: 1.1, dash: dotted ? '1.1px,1.8px' : 'solid'}
  });
}

function setupRow(r, kdeXs, kdeTicks, kdeFmt, traceVals, traceTicks, traceFmt) {
  const top = rowTop0 + r * rowGap, bot = top + rowH;
  const yd = [1 - bot / H, 1 - top / H];
  const nL = 2 * r + 1, nR = 2 * r + 2;
  const sfx = n => (n === 1 ? '' : String(n));
  const tickfont = {family: FONT, size: 12, color: TXT};
  layout['xaxis' + sfx(nL)] = {
    domain: [leftPx[0] / W, leftPx[1] / W], anchor: 'y' + nL, range: range5(kdeXs),
    tickvals: kdeTicks, tickformat: kdeFmt, showgrid: true, gridcolor: '#ffffff', gridwidth: 1,
    zeroline: false, showline: false, ticks: '', tickfont: tickfont, ticklabelstandoff: 2
  };
  layout['yaxis' + sfx(nL)] = {
    domain: yd, anchor: 'x' + nL, range: [-0.05, 1.05], showticklabels: false,
    showgrid: false, zeroline: false, showline: false, ticks: ''
  };
  layout['xaxis' + sfx(nR)] = {
    domain: [rightPx[0] / W, rightPx[1] / W], anchor: 'y' + nR, range: [0, 999],
    tickvals: drawTicks, showgrid: true, gridcolor: '#ffffff', gridwidth: 1,
    zeroline: false, showline: false, ticks: '', tickfont: tickfont, ticklabelstandoff: 2
  };
  layout['yaxis' + sfx(nR)] = {
    domain: yd, anchor: 'x' + nR, range: range5(traceVals),
    tickvals: traceTicks, tickformat: traceFmt, showgrid: true, gridcolor: '#ffffff', gridwidth: 1,
    zeroline: false, showline: false, ticks: '', tickfont: tickfont, ticklabelstandoff: 4
  };
  [[leftPx, nL], [rightPx, nR]].forEach(([px]) => {
    layout.annotations.push({
      text: panelTitles[r], xref: 'paper', yref: 'paper',
      x: (px[0] + px[1]) / 2 / W, y: yd[1], xanchor: 'center', yanchor: 'bottom',
      yshift: 3, showarrow: false, font: {family: FONT, size: 15.5, color: TXT}
    });
  });
  return [nL, nR];
}

// Row 0: Intercept
let n = setupRow(0, [interceptKdeAx, interceptKdeBx], interceptKdeTicks, '.1f', [interceptA, interceptB], interceptTraceTicks, '.1f');
kdeLine(interceptKdeAx, interceptKdeAy, chainColors[0], false, n[0]);
kdeLine(interceptKdeBx, interceptKdeBy, chainColors[0], true, n[0]);
traceLine(interceptA, singleStep, chainColors[0], false, n[1], 0.45);
traceLine(interceptB, singleStep, chainColors[0], true, n[1], 0.55);

// Row 1: C(agecat)
n = setupRow(1, agecatKde.map(c => c.ax).concat(agecatKde.map(c => c.bx)), agecatKdeTicks, '.1f', agecatA.concat(agecatB), agecatTraceTicks, '.1f');
agecatKde.forEach((c, i) => { kdeLine(c.ax, c.ay, chainColors[i], false, n[0]); kdeLine(c.bx, c.by, chainColors[i], true, n[0]); });
agecatA.forEach((v, i) => { traceLine(v, multiStep, chainColors[i], false, n[1], 0.5); traceLine(agecatB[i], multiStep, chainColors[i], true, n[1], 0.6); });

// Row 2: gender
n = setupRow(2, [genderKdeAx, genderKdeBx], genderKdeTicks, '.2f', [genderA, genderB], genderTraceTicks, '.1f');
kdeLine(genderKdeAx, genderKdeAy, chainColors[0], false, n[0]);
kdeLine(genderKdeBx, genderKdeBy, chainColors[0], true, n[0]);
traceLine(genderA, singleStep, chainColors[0], false, n[1], 0.45);
traceLine(genderB, singleStep, chainColors[0], true, n[1], 0.55);

// Row 3: area
n = setupRow(3, areaKde.map(c => c.ax).concat(areaKde.map(c => c.bx)), areaKdeTicks, '.1f', areaA.concat(areaB), areaTraceTicks, '.1f');
areaKde.forEach((c, i) => { kdeLine(c.ax, c.ay, chainColors[i], false, n[0]); kdeLine(c.bx, c.by, chainColors[i], true, n[0]); });
areaA.forEach((v, i) => { traceLine(v, multiStep, chainColors[i], false, n[1], 0.5); traceLine(areaB[i], multiStep, chainColors[i], true, n[1], 0.6); });

// Row 4: claimcst0_lam
n = setupRow(4, [claimKdeAx, claimKdeBx], claimKdeTicks, 'd', [claimA, claimB], claimTraceTicks, 'd');
kdeLine(claimKdeAx, claimKdeAy, chainColors[0], false, n[0]);
kdeLine(claimKdeBx, claimKdeBy, chainColors[0], true, n[0]);
traceLine(claimA, singleStep, chainColors[0], false, n[1], 0.45);
traceLine(claimB, singleStep, chainColors[0], true, n[1], 0.55);

Plotly.newPlot('chart', traces, layout, {displayModeBar: false, staticPlot: true});
</script>
</body></html>
